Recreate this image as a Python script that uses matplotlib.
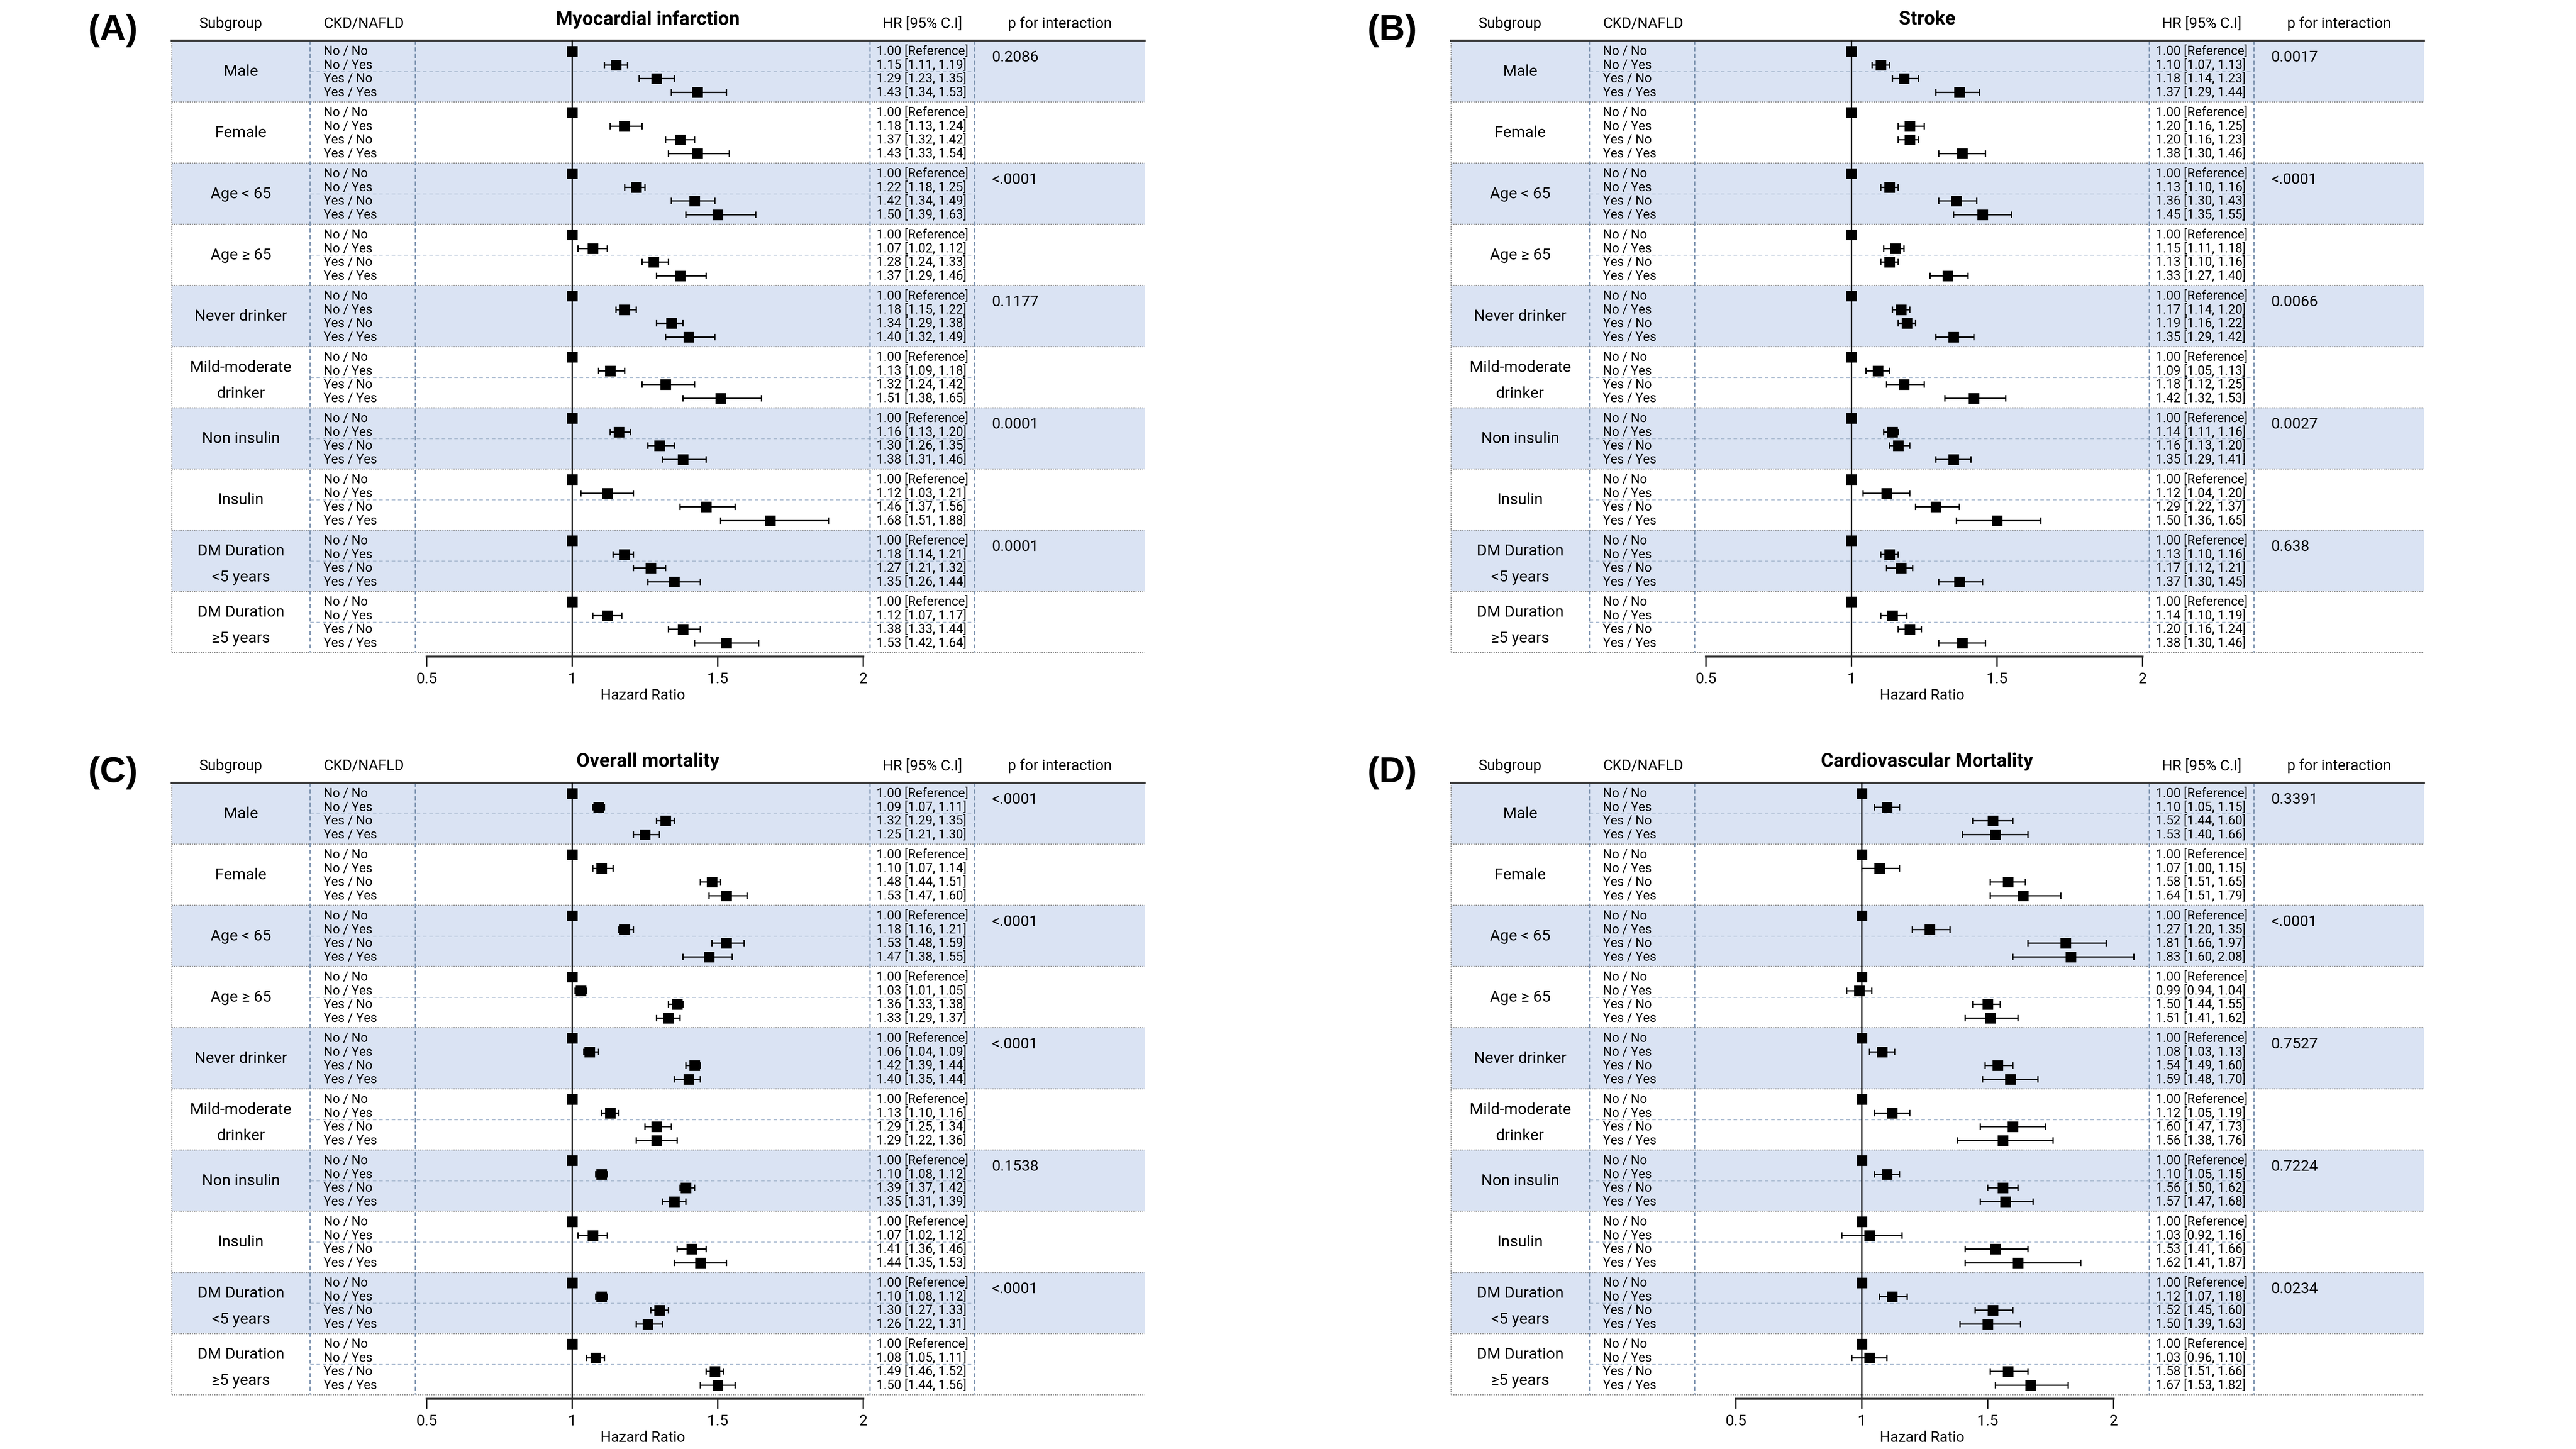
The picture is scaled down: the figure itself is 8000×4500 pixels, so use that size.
import matplotlib
matplotlib.use("Agg")
import matplotlib.pyplot as plt
from matplotlib.patches import Rectangle

# ===== Data =====
SUBGROUPS = ["Male", "Female", "Age < 65", "Age \u2265 65", "Never drinker",
             "Mild-moderate\ndrinker", "Non insulin", "Insulin",
             "DM Duration\n<5 years", "DM Duration\n\u22655 years"]
STATUS = ["No / No", "No / Yes", "Yes / No", "Yes / Yes"]

# HR / lower / upper for No/Yes, Yes/No, Yes/Yes (No/No is the reference)
mi_hr = [[1.15, 1.29, 1.43], [1.18, 1.37, 1.43], [1.22, 1.42, 1.50], [1.07, 1.28, 1.37], [1.18, 1.34, 1.40],
         [1.13, 1.32, 1.51], [1.16, 1.30, 1.38], [1.12, 1.46, 1.68], [1.18, 1.27, 1.35], [1.12, 1.38, 1.53]]
mi_lo = [[1.11, 1.23, 1.34], [1.13, 1.32, 1.33], [1.18, 1.34, 1.39], [1.02, 1.24, 1.29], [1.15, 1.29, 1.32],
         [1.09, 1.24, 1.38], [1.13, 1.26, 1.31], [1.03, 1.37, 1.51], [1.14, 1.21, 1.26], [1.07, 1.33, 1.42]]
mi_hi = [[1.19, 1.35, 1.53], [1.24, 1.42, 1.54], [1.25, 1.49, 1.63], [1.12, 1.33, 1.46], [1.22, 1.38, 1.49],
         [1.18, 1.42, 1.65], [1.20, 1.35, 1.46], [1.21, 1.56, 1.88], [1.21, 1.32, 1.44], [1.17, 1.44, 1.64]]
mi_p = ["0.2086", "<.0001", "0.1177", "0.0001", "0.0001"]

st_hr = [[1.10, 1.18, 1.37], [1.20, 1.20, 1.38], [1.13, 1.36, 1.45], [1.15, 1.13, 1.33], [1.17, 1.19, 1.35],
         [1.09, 1.18, 1.42], [1.14, 1.16, 1.35], [1.12, 1.29, 1.50], [1.13, 1.17, 1.37], [1.14, 1.20, 1.38]]
st_lo = [[1.07, 1.14, 1.29], [1.16, 1.16, 1.30], [1.10, 1.30, 1.35], [1.11, 1.10, 1.27], [1.14, 1.16, 1.29],
         [1.05, 1.12, 1.32], [1.11, 1.13, 1.29], [1.04, 1.22, 1.36], [1.10, 1.12, 1.30], [1.10, 1.16, 1.30]]
st_hi = [[1.13, 1.23, 1.44], [1.25, 1.23, 1.46], [1.16, 1.43, 1.55], [1.18, 1.16, 1.40], [1.20, 1.22, 1.42],
         [1.13, 1.25, 1.53], [1.16, 1.20, 1.41], [1.20, 1.37, 1.65], [1.16, 1.21, 1.45], [1.19, 1.24, 1.46]]
st_p = ["0.0017", "<.0001", "0.0066", "0.0027", "0.638"]

om_hr = [[1.09, 1.32, 1.25], [1.10, 1.48, 1.53], [1.18, 1.53, 1.47], [1.03, 1.36, 1.33], [1.06, 1.42, 1.40],
         [1.13, 1.29, 1.29], [1.10, 1.39, 1.35], [1.07, 1.41, 1.44], [1.10, 1.30, 1.26], [1.08, 1.49, 1.50]]
om_lo = [[1.07, 1.29, 1.21], [1.07, 1.44, 1.47], [1.16, 1.48, 1.38], [1.01, 1.33, 1.29], [1.04, 1.39, 1.35],
         [1.10, 1.25, 1.22], [1.08, 1.37, 1.31], [1.02, 1.36, 1.35], [1.08, 1.27, 1.22], [1.05, 1.46, 1.44]]
om_hi = [[1.11, 1.35, 1.30], [1.14, 1.51, 1.60], [1.21, 1.59, 1.55], [1.05, 1.38, 1.37], [1.09, 1.44, 1.44],
         [1.16, 1.34, 1.36], [1.12, 1.42, 1.39], [1.12, 1.46, 1.53], [1.12, 1.33, 1.31], [1.11, 1.52, 1.56]]
om_p = ["<.0001", "<.0001", "<.0001", "0.1538", "<.0001"]

cv_hr = [[1.10, 1.52, 1.53], [1.07, 1.58, 1.64], [1.27, 1.81, 1.83], [0.99, 1.50, 1.51], [1.08, 1.54, 1.59],
         [1.12, 1.60, 1.56], [1.10, 1.56, 1.57], [1.03, 1.53, 1.62], [1.12, 1.52, 1.50], [1.03, 1.58, 1.67]]
cv_lo = [[1.05, 1.44, 1.40], [1.00, 1.51, 1.51], [1.20, 1.66, 1.60], [0.94, 1.44, 1.41], [1.03, 1.49, 1.48],
         [1.05, 1.47, 1.38], [1.05, 1.50, 1.47], [0.92, 1.41, 1.41], [1.07, 1.45, 1.39], [0.96, 1.51, 1.53]]
cv_hi = [[1.15, 1.60, 1.66], [1.15, 1.65, 1.79], [1.35, 1.97, 2.08], [1.04, 1.55, 1.62], [1.13, 1.60, 1.70],
         [1.19, 1.73, 1.76], [1.15, 1.62, 1.68], [1.16, 1.66, 1.87], [1.18, 1.60, 1.63], [1.10, 1.66, 1.82]]
cv_p = ["0.3391", "<.0001", "0.7527", "0.7224", "0.0234"]

PANEL_LABELS = ["(A)", "(B)", "(C)", "(D)"]
TITLES = ["Myocardial infarction", "Stroke", "Overall mortality", "Cardiovascular Mortality"]
XTICKS = [0.5, 1, 1.5, 2]
XTICK_LABELS = ["0.5", "1", "1.5", "2"]

panels = [
    (mi_hr, mi_lo, mi_hi, mi_p, (0.461, 2.023)),
    (st_hr, st_lo, st_hi, st_p, (0.461, 2.023)),
    (om_hr, om_lo, om_hi, om_p, (0.461, 2.023)),
    (cv_hr, cv_lo, cv_hi, cv_p, (0.336, 2.142)),
]

plt.rcParams["font.family"] = ["Roboto", "DejaVu Sans"]

# ===== Layout (pixels inside one panel) =====
W, H = 8000, 4500
TABLE_L, SUB_R, CKD_R, HR_L, HR_R, TABLE_R = 533, 963, 1290, 2702, 3027, 3555
TOP, GROUP_H, AXIS_Y = 126, 190, 2039
ROW0, ROW_STEP = 33, 42.7
OFFSETS = [(0, 0), (3973, 0), (0, 2305), (3973, 2305)]
NO_MID_LINE = (1, 4)   # groups drawn without the thin middle rule

SHADE = "#DAE3F3"
SEP = "#8E8E8E"
VDASH = "#7F95B1"

fig = plt.figure(figsize=(16, 9), dpi=500)
bg = fig.add_axes([0, 0, 1, 1])
bg.set_xlim(0, W)
bg.set_ylim(H, 0)
bg.axis("off")

for k, (hr, lo, hi, pvals, xlim) in enumerate(panels):
    dx, dy = OFFSETS[k]

    # headers
    bg.text(dx + 351, dy + 95, PANEL_LABELS[k], family="Liberation Sans", fontweight="bold",
            fontsize=16, ha="center", va="center")
    bg.text(dx + 716, dy + 74, "Subgroup", fontsize=6.6, ha="center", va="center")
    bg.text(dx + 1005, dy + 74, "CKD/NAFLD", fontsize=6.6, ha="left", va="center")
    bg.text(dx + 2012, dy + 60, TITLES[k], fontsize=8.6, fontweight="bold",
            ha="center", va="center")
    bg.text(dx + (HR_L + HR_R) / 2, dy + 74, "HR [95% C.I]", fontsize=6.6, ha="center", va="center")
    bg.text(dx + (HR_R + TABLE_R) / 2, dy + 74, "p for interaction", fontsize=6.6,
            ha="center", va="center")

    # table body
    for g, name in enumerate(SUBGROUPS):
        top = dy + TOP + g * GROUP_H
        if g % 2 == 0:
            bg.add_patch(Rectangle((dx + TABLE_L, top), TABLE_R - TABLE_L, GROUP_H,
                                   facecolor=SHADE, edgecolor="none", zorder=0))
            bg.text(dx + 3080, top + 52, pvals[g // 2], fontsize=6.8, ha="left", va="center")
        bg.plot([dx + TABLE_L, dx + TABLE_R], [top + GROUP_H] * 2, color=SEP, lw=0.5,
                ls=(0, (1, 1)), zorder=1)
        if g not in NO_MID_LINE:
            bg.plot([dx + SUB_R, dx + HR_R], [top + 96] * 2, color="#A9BAD0", lw=0.4,
                    ls=(0, (4, 3)), zorder=1)

        lines = name.split("\n")
        if len(lines) == 1:
            bg.text(dx + (TABLE_L + SUB_R) / 2, top + 97, name, fontsize=7,
                    ha="center", va="center")
        else:
            for j, line in enumerate(lines):
                bg.text(dx + (TABLE_L + SUB_R) / 2, top + 66 + 81 * j, line, fontsize=7,
                        ha="center", va="center")

        for r, status in enumerate(STATUS):
            y = top + ROW0 + r * ROW_STEP
            bg.text(dx + 1005, y, status, fontsize=5.7, ha="left", va="center")
            if r == 0:
                label = "1.00 [Reference]"
            else:
                label = f"{hr[g][r - 1]:.2f} [{lo[g][r - 1]:.2f}, {hi[g][r - 1]:.2f}]"
            bg.text(dx + 2722, y, label, fontsize=5.7, ha="left", va="center")

    # frame lines
    bg.plot([dx + TABLE_L, dx + TABLE_R], [dy + TOP] * 2, color="#3A3A3A", lw=0.9, zorder=2)
    bg.plot([dx + TABLE_L] * 2, [dy + TOP, dy + TOP + 10 * GROUP_H], color=SEP, lw=0.5,
            ls=(0, (1, 1)), zorder=1)
    for xv in (SUB_R, CKD_R, HR_L, HR_R):
        bg.plot([dx + xv] * 2, [dy + TOP, dy + TOP + 10 * GROUP_H], color=VDASH, lw=0.6,
                ls=(0, (3, 2)), zorder=1)
    bg.text(dx + (CKD_R + HR_L) / 2, dy + 2160, "Hazard Ratio", fontsize=6.6,
            ha="center", va="center")

    # forest plot
    ax = fig.add_axes([(dx + CKD_R) / W, 1 - (dy + AXIS_Y) / H,
                       (HR_L - CKD_R) / W, (AXIS_Y - TOP) / H])
    ax.set_facecolor("none")
    ax.set_xlim(*xlim)
    ax.set_ylim(AXIS_Y, TOP)
    ax.axvline(1, color="black", lw=0.6, zorder=1)

    ref_y, ys, xs, xerr_lo, xerr_hi = [], [], [], [], []
    for g in range(len(SUBGROUPS)):
        top = TOP + g * GROUP_H
        ref_y.append(top + ROW0)
        for r in range(3):
            ys.append(top + ROW0 + (r + 1) * ROW_STEP)
            xs.append(hr[g][r])
            xerr_lo.append(hr[g][r] - lo[g][r])
            xerr_hi.append(hi[g][r] - hr[g][r])
    ax.plot([1] * len(ref_y), ref_y, "s", color="black", ms=3.8, zorder=3)
    ax.errorbar(xs, ys, xerr=[xerr_lo, xerr_hi], fmt="s", color="black", ms=3.8,
                elinewidth=0.6, capsize=1.5, capthick=0.6, zorder=3)

    for side in ("left", "right", "top"):
        ax.spines[side].set_visible(False)
    ax.spines["bottom"].set_bounds(0.5, 2)
    ax.spines["bottom"].set_linewidth(0.9)
    ax.spines["bottom"].set_color("#333333")
    ax.set_yticks([])
    ax.set_xticks(XTICKS)
    ax.set_xticklabels(XTICK_LABELS)
    ax.tick_params(axis="x", direction="out", length=4.4, width=0.6, pad=2.5, labelsize=6.8)

fig.savefig("out.png", dpi=500)
